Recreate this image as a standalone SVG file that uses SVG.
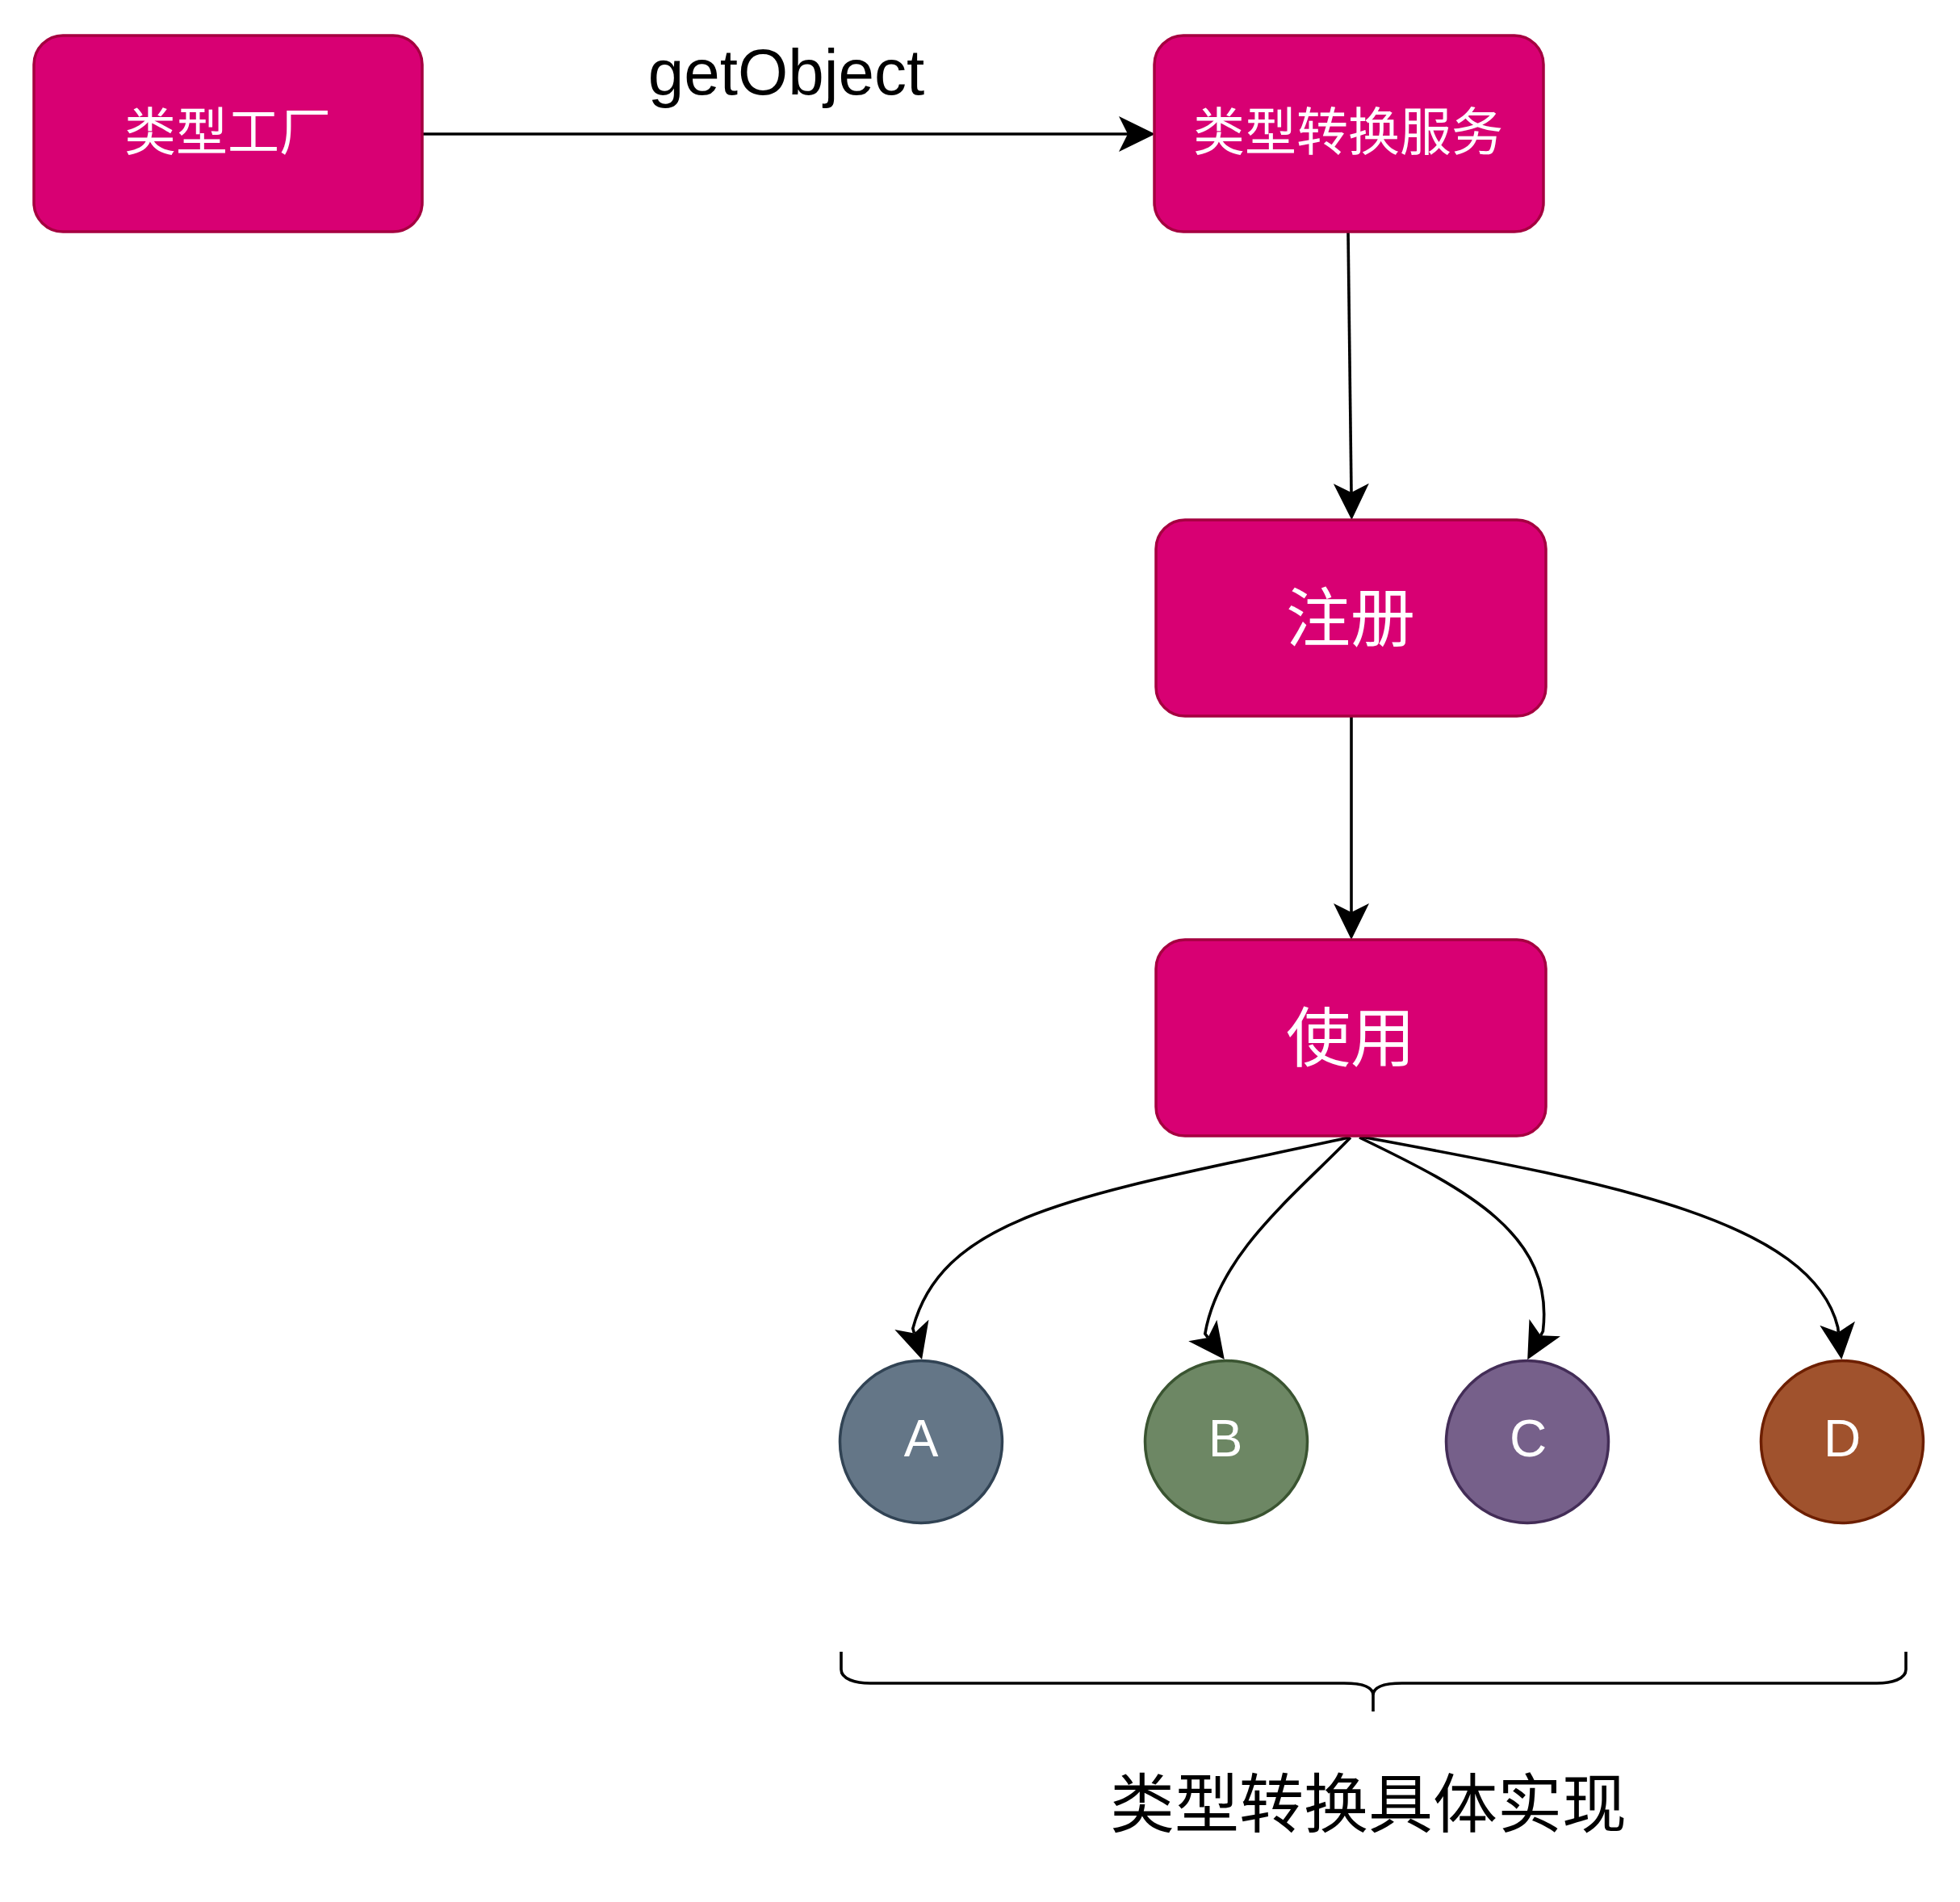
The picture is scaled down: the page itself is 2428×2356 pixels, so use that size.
<svg xmlns="http://www.w3.org/2000/svg" width="2428" height="2356" viewBox="0 0 2428 2356">
  <style>
    .box { fill: #d80073; stroke: #a50040; stroke-width: 3.5; }
    .lbl { fill: #ffffff; font-family: "Liberation Sans", "Noto Sans CJK SC", sans-serif; text-anchor: middle; }
    .cjk { font-family: "Noto Sans CJK SC", sans-serif; }
    .edge { fill: none; stroke: #000000; stroke-width: 3.6; marker-end: url(#arr); }
    .plain { fill: none; stroke: #000000; stroke-width: 3.6; }
    .txt { fill: #000000; text-anchor: middle; }
  </style>
  <defs>
    <marker id="arr" viewBox="0 0 45 44" markerWidth="45" markerHeight="44" refX="11" refY="22" orient="auto" markerUnits="userSpaceOnUse">
      <path d="M0,0 L45,22 L0,44 L11,22 Z" fill="#000000"/>
    </marker>
  </defs>
  <rect width="2428" height="2356" fill="#ffffff"/>

  <g id="connectors">
    <path class="edge" d="M523,166 L1397,166"/>
    <path class="edge" d="M1670,287 L1674,610"/>
    <path class="edge" d="M1674,887 L1674,1130"/>
    <path class="edge" d="M1671,1409 C1349,1479 1169.4,1501 1130.8,1645.6 L1132.5,1651.4"/>
    <path class="edge" d="M1673,1409 C1603,1481 1509.8,1553.6 1492.8,1652.1 L1496.4,1656.9"/>
    <path class="edge" d="M1684,1409 C1819,1474 1925.8,1530 1911.4,1649 L1908.5,1654.3"/>
    <path class="edge" d="M1686,1408 C1981,1463 2243.7,1508.4 2276.7,1644.2 L2277.4,1650.2"/>
    <text class="txt" x="974" y="117" font-family="Liberation Sans, sans-serif" font-size="80">getObject</text>
  </g>

  <g id="node-factory">
    <rect class="box" x="42" y="44" width="481" height="243" rx="36" ry="36"/>
    <text class="lbl cjk" x="282" y="186" font-size="64">类型工厂</text>
  </g>
  <g id="node-service">
    <rect class="box" x="1430" y="44" width="482" height="243" rx="36" ry="36"/>
    <text class="lbl cjk" x="1670" y="186" font-size="64">类型转换服务</text>
  </g>
  <g id="node-register">
    <rect class="box" x="1432" y="644" width="483" height="243" rx="36" ry="36"/>
    <text class="lbl cjk" x="1673" y="794" font-size="80">注册</text>
  </g>
  <g id="node-use">
    <rect class="box" x="1432" y="1164" width="483" height="243" rx="36" ry="36"/>
    <text class="lbl cjk" x="1673" y="1314" font-size="80">使用</text>
  </g>

  <g id="node-a">
    <circle cx="1141" cy="1786" r="100.5" fill="#647687" stroke="#314354" stroke-width="3.5"/>
    <text class="lbl" x="1141" y="1804" font-size="64">A</text>
  </g>
  <g id="node-b">
    <circle cx="1519" cy="1786" r="100.5" fill="#6d8764" stroke="#3a5431" stroke-width="3.5"/>
    <text class="lbl" x="1518" y="1804" font-size="64">B</text>
  </g>
  <g id="node-c">
    <circle cx="1892" cy="1786" r="100.5" fill="#76608a" stroke="#432d57" stroke-width="3.5"/>
    <text class="lbl" x="1893" y="1804" font-size="64">C</text>
  </g>
  <g id="node-d">
    <circle cx="2282" cy="1786" r="100.5" fill="#a0522d" stroke="#6d1f00" stroke-width="3.5"/>
    <text class="lbl" x="2282" y="1804" font-size="64">D</text>
  </g>

  <g id="brace">
    <path class="plain" d="M1042,2046 L1042,2068 C1042,2080 1060,2085 1078,2085 L1665,2085 C1690,2085 1701,2090 1701,2100 L1701,2120 M1701,2100 C1701,2090 1712,2085 1737,2085 L2325,2085 C2343,2085 2361,2080 2361,2068 L2361,2046"/>
    <text class="txt cjk" x="1695" y="2263" font-size="80">类型转换具体实现</text>
  </g>
</svg>
